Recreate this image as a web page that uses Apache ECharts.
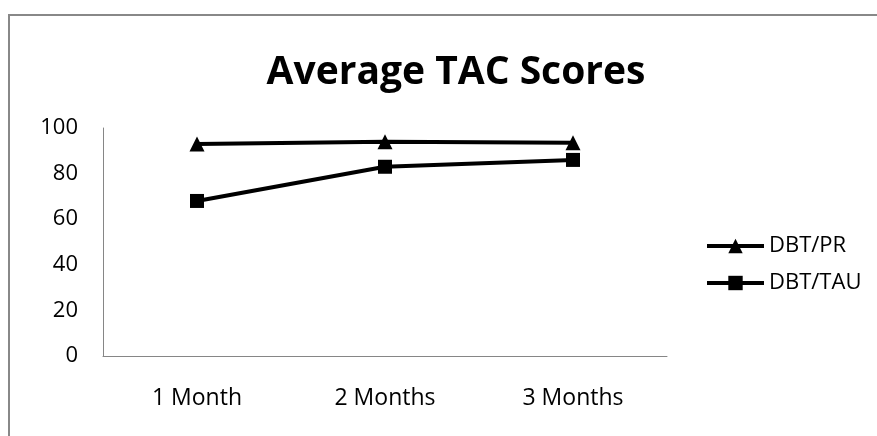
<!DOCTYPE html>
<html>
<head>
<meta charset="utf-8">
<script src="https://cdn.jsdelivr.net/npm/echarts@6/dist/echarts.min.js"></script>
<style>
  html, body { margin: 0; padding: 0; background: #fff; }
  #chart { width: 877px; height: 436px; }
</style>
</head>
<body>
<div id="chart"></div>
<script>
const categories = ['1 Month', '2 Months', '3 Months']
const dbtPr = [93, 94, 93.5]
const dbtTau = [68, 83, 86]

const chart = echarts.init(document.getElementById('chart'))
const font = 'Open Sans, sans-serif'

const option = {
  animation: false,
  backgroundColor: '#fff',
  title: {
    text: 'Average TAC Scores',
    left: 451,
    textAlign: 'center',
    top: 48,
    textStyle: {
      fontFamily: font,
      fontWeight: 'bold',
      fontSize: 39,
      color: '#000',
    },
  },
  graphic: [
    {
      type: 'rect',
      shape: { x: 9, y: 15, width: 900, height: 460 },
      style: { fill: 'none', stroke: '#888', lineWidth: 2 },
      silent: true,
    },
  ],
  legend: {
    orient: 'vertical',
    left: 700,
    top: 230,
    itemWidth: 57,
    itemHeight: 18,
    itemGap: 15,
    lineStyle: { width: 4 },
    textStyle: { fontFamily: font, fontSize: 22, color: '#000' },
    data: ['DBT/PR', 'DBT/TAU'],
  },
  grid: {
    left: 103,
    right: 210,
    top: 128,
    bottom: 80,
  },
  xAxis: {
    type: 'category',
    data: categories,
    boundaryGap: true,
    axisLine: { lineStyle: { color: '#868686', width: 1 } },
    axisTick: { show: false },
    axisLabel: {
      color: '#000',
      fontFamily: font,
      fontSize: 23,
      margin: 31,
    },
  },
  yAxis: {
    type: 'value',
    min: 0,
    max: 100,
    interval: 20,
    axisLine: { show: true, lineStyle: { color: '#868686', width: 1 } },
    axisTick: { show: false },
    splitLine: { show: false },
    axisLabel: {
      color: '#000',
      fontFamily: font,
      fontSize: 22,
      margin: 25,
    },
  },
  series: [
    {
      name: 'DBT/PR',
      type: 'line',
      data: dbtPr,
      symbol: 'triangle',
      symbolSize: 15,
      lineStyle: { color: '#000', width: 4 },
      itemStyle: { color: '#000' },
    },
    {
      name: 'DBT/TAU',
      type: 'line',
      data: dbtTau,
      symbol: 'rect',
      symbolSize: 14,
      lineStyle: { color: '#000', width: 4 },
      itemStyle: { color: '#000' },
    },
  ],
}

chart.setOption(option)
</script>
</body>
</html>
